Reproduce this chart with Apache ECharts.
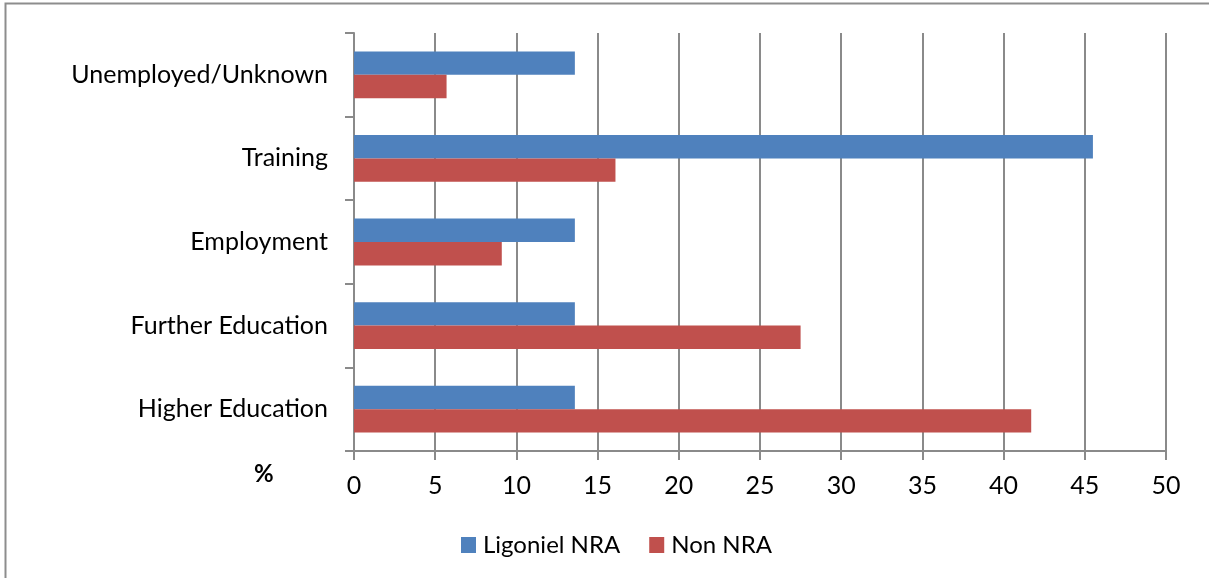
<!DOCTYPE html>
<html>
<head>
<meta charset="utf-8">
<script src="https://cdn.jsdelivr.net/npm/echarts@6/dist/echarts.min.js"></script>
<style>
html,body{margin:0;padding:0;background:#fff;}
#chart{width:1209px;height:578px;}
</style>
</head>
<body>
<div id="chart"></div>
<script>
const categories = ['Higher Education', 'Further Education', 'Employment', 'Training', 'Unemployed/Unknown'];
const ligonielNRA = [13.6, 13.6, 13.6, 45.5, 13.6];
const nonNRA = [41.7, 27.5, 9.1, 16.1, 5.7];
const seriesNames = ['Ligoniel NRA', 'Non NRA'];
const xTicks = { min: 0, max: 50, interval: 5 };

const FONT = 'Lato';
const GRAY = '#8a8a8a';

const chart = echarts.init(document.getElementById('chart'), null, { renderer: 'canvas' });
chart.setOption({
  animation: false,
  backgroundColor: '#fff',
  textStyle: { fontFamily: FONT },
  grid: { left: 354, right: 43, top: 33, bottom: 127, containLabel: false },
  legend: {
    data: seriesNames,
    left: 461, top: 533, padding: 0,
    itemWidth: 15, itemHeight: 16, itemGap: 29,
    icon: 'rect',
    textStyle: { fontFamily: FONT, fontSize: 24, color: '#000', padding: [0, 0, 0, 2] }
  },
  xAxis: {
    type: 'value', min: xTicks.min, max: xTicks.max, interval: xTicks.interval,
    axisLine: { show: true, lineStyle: { color: GRAY, width: 2 } },
    axisTick: { show: true, length: 9, lineStyle: { color: GRAY, width: 2 } },
    axisLabel: { color: '#000', fontSize: 25, fontFamily: FONT, margin: 22 },
    splitLine: { show: true, lineStyle: { color: GRAY, width: 2 } }
  },
  yAxis: {
    type: 'category', data: categories,
    axisLine: { show: true, lineStyle: { color: GRAY, width: 2 } },
    axisTick: { show: true, length: 9, lineStyle: { color: GRAY, width: 2 } },
    axisLabel: { color: '#000', fontSize: 25, fontFamily: FONT, margin: 26 }
  },
  series: [
    { name: 'Ligoniel NRA', type: 'bar', data: ligonielNRA, barGap: '0%', barCategoryGap: '44%',
      itemStyle: { color: '#4F81BD' } },
    { name: 'Non NRA', type: 'bar', data: nonNRA, barGap: '0%', barCategoryGap: '44%',
      itemStyle: { color: '#C0504D' } }
  ],
  graphic: [
    { type: 'rect', shape: { x: 5.5, y: 3.5, width: 2000, height: 2000 }, silent: true,
      style: { fill: null, stroke: '#8d8d8d', lineWidth: 2 } },
    { type: 'text', left: 254, top: 462, style: { text: '%', fontFamily: FONT, fontSize: 24, fontWeight: 'bold', fill: '#000' } }
  ]
});
</script>
</body>
</html>
